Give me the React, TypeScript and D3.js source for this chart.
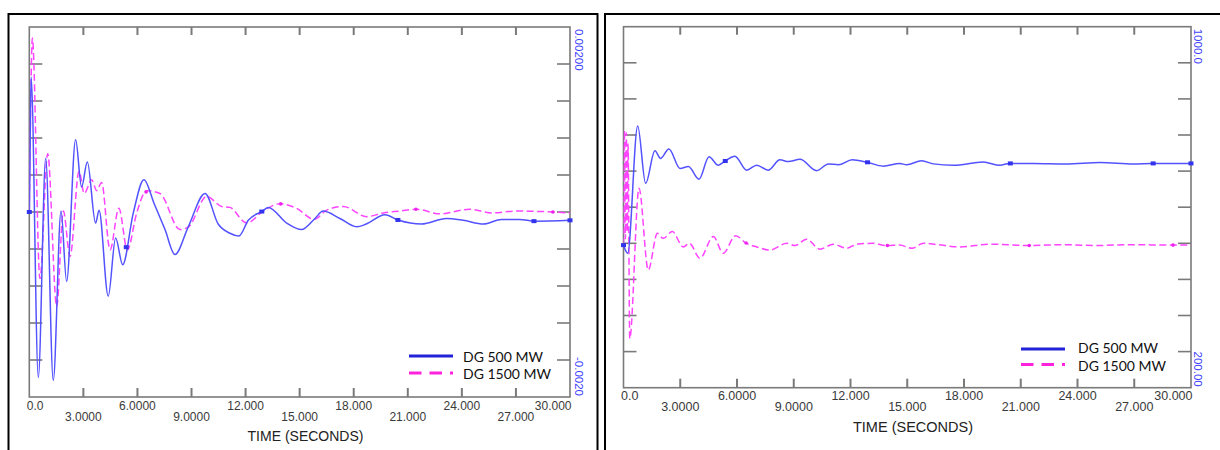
import React from "react";
import * as d3 from "d3";

// ---------- DATA ----------
const xTickValues = [0, 3, 6, 9, 12, 15, 18, 21, 24, 27, 30];
const xTickLabels = ["0.0", "3.0000", "6.0000", "9.0000", "12.000", "15.000", "18.000", "21.000", "24.000", "27.000", "30.000"];
const xTitle = "TIME (SECONDS)";
const seriesNames = ["DG 500 MW", "DG 1500 MW"];

const leftDomain: [number, number] = [-0.002, 0.002];
const leftAxisLabels = ["0.00200", "-0.0020"];
const rightDomain: [number, number] = [200, 1000];
const rightAxisLabels = ["1000.0", "200.00"];

// Left panel (speed deviation)
const leftDG500: [number, number][] = [
  [0, 0], [0.04, 0.0006], [0.1, 0.00146], [0.5, -0.00179], [0.91, 0.00058], [1.33, -0.00182],
  [1.76, 0.00001], [2.07, -0.00075], [2.57, 0.00078], [2.9, 0.00027], [3.22, 0.00054],
  [3.68, -0.00012], [3.87, 0.00002], [4.38, -0.00091], [4.79, -0.00028], [5.18, -0.00057],
  [5.77, -0.00001], [6.36, 0.00035], [6.93, 0.00009], [7.53, -0.00019], [8.08, -0.00046],
  [8.82, -0.00016], [9.75, 0.0002], [10.48, -0.00013], [11.13, -0.00023], [11.63, -0.00026],
  [12.15, -0.00009], [12.94, 0.00001], [13.26, 0.00005], [14.28, -0.00012], [15.1, -0.00019],
  [15.85, -0.00007], [16.3, 0.00001], [17.23, -0.00007], [18.16, -0.00016], [18.7, -0.00013],
  [19.73, -0.00003], [20.5, -0.00009], [21.76, -0.00013], [23.15, -0.00007], [24.07, -0.00009],
  [25.2, -0.00013], [26.2, -0.00008], [27.2, -0.00008], [28.05, -0.0001], [30, -0.00009],
];
const leftDG1500: [number, number][] = [
  [0, 0], [0.08, 0.0012], [0.17, 0.00188], [0.59, -0.00072], [1.02, 0.00063], [1.52, -0.00102],
  [1.89, 0.00001], [2.26, -0.00048], [2.76, 0.00044], [3.05, 0.0002], [3.46, 0.00035],
  [3.74, 0.00023], [4.01, 0.00032], [4.48, -0.00041], [4.97, 0.00004], [5.44, -0.00041],
  [5.96, -0.00001], [6.51, 0.00023], [7.25, 0.0002], [8.36, -0.00019], [8.84, -0.00016],
  [9.84, 0.00017], [10.67, 0.00006], [11.13, 0.00005], [12.06, -0.00012], [12.98, 0.00001],
  [13.9, 0.00009], [14.83, 0.00004], [15.8, -0.00008], [16.5, 0.00002], [17.42, 0.00006],
  [18.72, -0.00005], [19.64, -0.00001], [20.56, 0.00001], [21.48, 0.00003], [22.78, -0.00002],
  [24.44, 0.00003], [25.65, -0.00001], [27.0, 0.00001], [29.07, 0], [30, -0.00001],
];

// Right panel (MW)
const rightDG500: [number, number][] = [
  [0, 516], [0.22, 498], [0.75, 780], [1.17, 653], [1.66, 725], [1.96, 708], [2.4, 729],
  [2.99, 686], [3.43, 690], [3.99, 662], [4.52, 712], [5.01, 693], [5.36, 702], [5.89, 713],
  [6.51, 682], [7.04, 693], [7.65, 682], [8.27, 705], [8.71, 701], [9.33, 706], [10.21, 681],
  [10.83, 696], [11.36, 694], [12.09, 705], [12.85, 700], [13.73, 691], [14.61, 697],
  [14.97, 694], [15.76, 703], [16.38, 696], [17.43, 693], [19.02, 700], [19.9, 693],
  [20.4, 697], [21.66, 697], [23.4, 696], [25.2, 699], [26.95, 696], [27.95, 697], [30, 697],
];
const rightDG1500: [number, number][] = [
  [0, 516], [0.05, 770], [0.1, 530], [0.15, 765], [0.2, 545], [0.24, 740], [0.33, 309],
  [0.82, 642], [1.31, 461], [1.79, 542], [2.1, 531], [2.58, 546], [3.16, 512], [3.48, 520],
  [4.04, 487], [4.75, 535], [5.27, 498], [5.93, 537], [6.46, 521], [7.04, 512], [7.74, 505],
  [8.63, 520], [9.06, 515], [9.68, 529], [10.39, 507], [11.09, 518], [11.8, 509], [12.33, 518],
  [13.2, 520], [13.9, 515], [14.6, 516], [15.25, 509], [15.85, 520], [16.6, 517], [17.8, 512],
  [19.37, 518], [21.4, 515], [23.3, 517], [25, 515], [26.8, 517], [29, 516], [30, 516],
];

const markerTimesDG500 = [0, 5.38, 12.9, 20.45, 28.0, 30];
const markerTimesDG1500 = [6.48, 13.95, 21.45, 29.05];

// ---------- STYLE ----------
const BLUE = "#5252ff";
const MAGENTA = "#ff44ff";
const LEG_BLUE = "#2222d8";
const LEG_MAGENTA = "#ff22dd";
const FRAME = "#7a7a7a";

function interp(data: [number, number][], t: number) {
  const bis = d3.bisector((d: [number, number]) => d[0]).left;
  let i = bis(data, t);
  if (i <= 0) return data[0][1];
  if (i >= data.length) return data[data.length - 1][1];
  const a = data[i - 1], b = data[i];
  return a[1] + ((t - a[0]) / (b[0] - a[0])) * (b[1] - a[1]);
}

type PanelProps = {
  box: { x: number; y: number; w: number; h: number };
  plot: { l: number; r: number; t: number; b: number };
  domain: [number, number];
  axisLabels: string[];
  blue: [number, number][];
  magenta: [number, number][];
  fs: number;
  labelRows: [number, number];
  titleY: number;
  titleX: number;
  titleFs: number;
  legend: { x: number; y1: number; y2: number; tx: number; b1: number; b2: number };
  axisLabelX: number;
  clipId: string;
};

function Panel(p: PanelProps) {
  const x = d3.scaleLinear().domain([0, 30]).range([p.plot.l, p.plot.r]);
  const y = d3.scaleLinear().domain(p.domain).range([p.plot.b, p.plot.t]);
  const line = d3
    .line<[number, number]>()
    .x((d) => x(d[0]))
    .y((d) => y(d[1]))
    .curve(d3.curveMonotoneX);
  const yTicks = d3.range(1, 10).map((i) => p.domain[0] + ((p.domain[1] - p.domain[0]) * i) / 10);
  const innerX = xTickValues.filter((v) => v > 0 && v < 30);
  return (
    <g>
      <rect x={p.box.x} y={p.box.y} width={p.box.w} height={p.box.h} fill="none" stroke="#000" strokeWidth={2} />
      <defs>
        <clipPath id={p.clipId}>
          <rect x={p.plot.l} y={p.plot.t} width={p.plot.r - p.plot.l} height={p.plot.b - p.plot.t} />
        </clipPath>
      </defs>
      {innerX.map((v) => (
        <g key={"xt" + v}>
          <line x1={x(v)} x2={x(v)} y1={p.plot.t} y2={p.plot.t + 8} stroke={FRAME} strokeWidth={2} />
          <line x1={x(v)} x2={x(v)} y1={p.plot.b} y2={p.plot.b - 9} stroke={FRAME} strokeWidth={2} />
        </g>
      ))}
      {yTicks.map((v, i) => (
        <g key={"yt" + i}>
          <line x1={p.plot.l} x2={p.plot.l + 13} y1={y(v)} y2={y(v)} stroke={FRAME} strokeWidth={1.6} />
          <line x1={p.plot.r} x2={p.plot.r - 13} y1={y(v)} y2={y(v)} stroke={FRAME} strokeWidth={1.6} />
        </g>
      ))}
      <rect x={p.plot.l} y={p.plot.t} width={p.plot.r - p.plot.l} height={p.plot.b - p.plot.t} fill="none" stroke={FRAME} strokeWidth={1.6} />
      <g clipPath={`url(#${p.clipId})`}>
        <path d={line(p.magenta) || ""} fill="none" stroke={MAGENTA} strokeWidth={1.5} strokeDasharray="7,3.5" />
        <path d={line(p.blue) || ""} fill="none" stroke={BLUE} strokeWidth={1.5} />
      </g>
      {markerTimesDG500.map((t, i) => (
        <rect key={"mb" + i} x={x(t) - 2.5} y={y(interp(p.blue, t)) - 2} width={5} height={4} fill="#3333ee" />
      ))}
      {markerTimesDG1500.map((t, i) => (
        <circle key={"mm" + i} cx={x(t)} cy={y(interp(p.magenta, t))} r={1.8} fill="#ee22ee" />
      ))}
      {xTickValues.map((v, i) => {
        const anchor = i === 0 ? "start" : i === xTickValues.length - 1 ? "end" : "middle";
        const xx = i === 0 ? x(v) - 2.5 : i === xTickValues.length - 1 ? x(v) + 1.5 : x(v);
        return (
          <text key={"xl" + i} x={xx} y={p.labelRows[i % 2]} fontSize={p.fs} fontFamily="Liberation Sans, Arial, sans-serif" fill="#3a3a3a" textAnchor={anchor}>
            {xTickLabels[i]}
          </text>
        );
      })}
      <text x={p.titleX} y={p.titleY} fontSize={p.titleFs} fontFamily="Liberation Sans, Arial, sans-serif" fill="#222" textAnchor="middle">
        {xTitle}
      </text>
      <text transform={`translate(${p.axisLabelX},${p.plot.t + 2}) rotate(90)`} fontSize={11.5} fontFamily="Liberation Sans, Arial, sans-serif" fill="#3f3fff" textAnchor="start">
        {p.axisLabels[0]}
      </text>
      <text transform={`translate(${p.axisLabelX},${p.plot.b - 1}) rotate(90)`} fontSize={11.5} fontFamily="Liberation Sans, Arial, sans-serif" fill="#3f3fff" textAnchor="end">
        {p.axisLabels[1]}
      </text>
      <line x1={p.legend.x} x2={p.legend.x + 44} y1={p.legend.y1} y2={p.legend.y1} stroke={LEG_BLUE} strokeWidth={3} />
      <line x1={p.legend.x} x2={p.legend.x + 44} y1={p.legend.y2} y2={p.legend.y2} stroke={LEG_MAGENTA} strokeWidth={3} strokeDasharray="12.5,8" />
      <text x={p.legend.tx} y={p.legend.b1} fontSize={14} fontFamily="Lato, 'Open Sans', sans-serif" fill="#111">
        {seriesNames[0]}
      </text>
      <text x={p.legend.tx} y={p.legend.b2} fontSize={14} fontFamily="Lato, 'Open Sans', sans-serif" fill="#111">
        {seriesNames[1]}
      </text>
    </g>
  );
}

export default function App() {
  return (
    <svg width={1220} height={450} style={{ position: "absolute", left: 0, top: 0, background: "#fff" }}>
      <rect x={0} y={0} width={1220} height={450} fill="#fff" />
      <Panel
        box={{ x: 8.5, y: 14, w: 589, h: 450 }}
        plot={{ l: 29.3, r: 570, t: 27, b: 397 }}
        domain={leftDomain}
        axisLabels={leftAxisLabels}
        blue={leftDG500}
        magenta={leftDG1500}
        fs={12}
        labelRows={[410, 420.5]}
        titleX={305.5}
        titleY={441}
        titleFs={14}
        legend={{ x: 409, y1: 356, y2: 373, tx: 463, b1: 361.5, b2: 378.5 }}
        axisLabelX={575}
        clipId="clipL"
      />
      <Panel
        box={{ x: 605, y: 14, w: 620, h: 450 }}
        plot={{ l: 623.5, r: 1191, t: 26.7, b: 387.7 }}
        domain={rightDomain}
        axisLabels={rightAxisLabels}
        blue={rightDG500}
        magenta={rightDG1500}
        fs={12.5}
        labelRows={[400, 410.7]}
        titleX={913}
        titleY={432}
        titleFs={14.5}
        legend={{ x: 1021, y1: 349, y2: 364.5, tx: 1078, b1: 352.5, b2: 371 }}
        axisLabelX={1194}
        clipId="clipR"
      />
    </svg>
  );
}
